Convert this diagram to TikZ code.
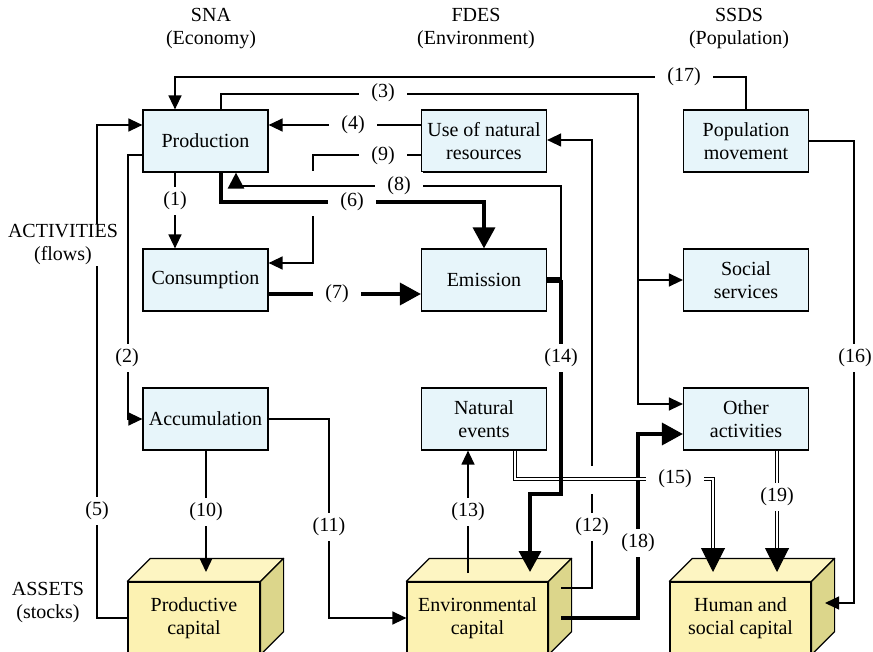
\documentclass[tikz,border=0pt]{standalone}
\usepackage{fontspec}
\setmainfont{Liberation Serif}
\usetikzlibrary{arrows.meta}
\definecolor{boxblue}{HTML}{E7F5FA}
\definecolor{cubefront}{HTML}{FCF2B2}
\definecolor{cubetop}{HTML}{FDF5C2}
\definecolor{cubeside}{HTML}{DCD68B}
\begin{document}
\begin{tikzpicture}[x=1pt,y=-1pt,
  every node/.style={font=\fontsize{20}{23}\selectfont},
  box/.style={draw, line width=1.2pt, fill=boxblue, minimum width=125pt,
    minimum height=62pt, inner sep=0pt, align=center},
  stock/.style={draw, line width=1.2pt, fill=cubefront, minimum height=72pt,
    inner sep=0pt, align=center},
  face/.style={draw, line width=1.2pt, line join=round},
  lab/.style={fill=white, inner xsep=12.5pt, inner ysep=4.5pt},
  side/.style={fill=white, inner sep=1pt, align=center},
  flow/.style={line width=1.3pt, -{Triangle[length=14pt,width=13pt]}},
  midflow/.style={line width=2.5pt, -{Triangle[length=16pt,width=16pt]}},
  bigflow/.style={line width=3.5pt, -{Triangle[length=21pt,width=22pt]}},
  dblline/.style={line width=1pt, double, double distance=2.5pt, shorten >=20pt},
  dbltip/.style={line width=1pt, -{Triangle[length=24pt,width=24pt]}},
  mask/.style={white, line width=4pt},
]
\useasboundingbox (0,0) rectangle (873,652);

% lanes used by the connectors
\foreach \v in {97,128,175,206,221,236,313,329,468,515,530,561,592,638,713,777,825,854}
  \coordinate (x\v) at (\v,0);
\foreach \v in {77,94,125,140,155,186,202,263,294,404,434,479,494,550,572,573,588,603,618}
  \coordinate (y\v) at (0,\v);

% column headings
\node[align=center] (sna)  at (211,28.5) {SNA\\(Economy)};
\node[align=center] (fdes) at (476,28.5) {FDES\\(Environment)};
\node[align=center] (ssds) at (739,28.5) {SSDS\\(Population)};

% activity boxes
\node[box] (pr) at (205.5,141) {Production};
\node[box] (co) at (205.5,280) {Consumption};
\node[box] (ac) at (205.5,419) {Accumulation};
\node[box] (un) at (484,141) {Use of natural\\resources};
\node[box] (em) at (484,280) {Emission};
\node[box] (ne) at (484,419) {Natural\\events};
\node[box] (pm) at (746,141) {Population\\movement};
\node[box] (ss) at (746,280) {Social\\services};
\node[box] (oa) at (746,419) {Other\\activities};

% asset blocks
\node[stock, minimum width=132pt] (pc) at (194,618) {Productive\\capital};
\node[stock, minimum width=141pt] (ec) at (477.5,618) {Environmental\\capital};
\node[stock, minimum width=141pt] (hc) at (740.5,618) {Human and\\social capital};
\foreach \c in {pc,ec,hc}{
  \draw[face, fill=cubetop] (\c.north west) -- ++(23,-23)
    -- ([shift={(23,-23)}]\c.north east) -- (\c.north east) -- cycle;
  \draw[face, fill=cubeside] (\c.north east) -- ++(23,-23)
    -- ([shift={(23,-23)}]\c.south east) -- (\c.south east) -- cycle;
}

% thin flows
\draw[flow] (pm.north) |- (x175 |- y77) -- (x175 |- pr.north);
\draw[flow] (x221 |- pr.north) |- (x638 |- y94) -- (x638 |- y404) -- (oa.west |- y404);
\draw[flow] (x638 |- ss.west) -- (ss.west);
\draw[flow] (un.west |- y125) -- (pr.east |- y125);
\draw[flow] (un.west |- y155) -| (x313 |- y263) -- (co.east |- y263);
\draw[mask] (313,171) -- (313,216);
\draw[flow] (x175 |- pr.south) -- (x175 |- co.north);
\draw[flow] (pr.west |- y155) -| (x128 |- ac.west) -- (ac.west);
\draw[flow] (pc.west |- y618) -| (x97 |- y125) -- (pr.west |- y125);
\draw[flow] (x206 |- ac.south) -- (x206 |- y572);
\draw[flow] (ac.east) -| (x329 |- y618) -- (ec.west |- y618);
\draw[flow] (x468 |- y573) -- (x468 |- ne.south);
\draw[flow] (x561 |- y588) -| (x592 |- y140) -- (un.east |- y140);
\draw[mask] (592,466) -- (592,494);
\draw[flow] (pm.east) -| (x854 |- y603) -- (x825 |- y603);

% heavy flows
\draw[bigflow] (x221 |- pr.south) |- (em.north |- y202) -- (em.north);
\draw[midflow] (x561 |- em.east) |- (x236 |- y186) -- (x236 |- pr.south);
\draw[bigflow] (co.east |- y294) -- (em.west |- y294);
\draw[bigflow] (x561 |- y618) -| (x638 |- y434) -- (oa.west |- y434);
\draw[dblline] (x515 |- ne.south) |- (x713 |- y479) -- (x713 |- y572);
\draw[dbltip] (x713 |- y550) -- (x713 |- y572);
\draw[dblline] (x777 |- oa.south) -- (x777 |- y572);
\draw[dbltip] (x777 |- y550) -- (x777 |- y572);
\draw[bigflow] (x561 |- em.east) |- (x530 |- y494) -- (x530 |- y572);
\draw[line width=6.5pt] (em.east) -- (x561 |- em.east);

% flow numbers
\node[lab] (l1)  at (175,201)   {(1)};
\node[lab] (l2)  at (127,358)   {(2)};
\node[lab] (l3)  at (383,93)    {(3)};
\node[lab] (l4)  at (353,125)   {(4)};
\node[lab] (l5)  at (97,511)    {(5)};
\node[lab] (l6)  at (352,202)   {(6)};
\node[lab] (l7)  at (337,294)   {(7)};
\node[lab] (l8)  at (399,186)   {(8)};
\node[lab] (l9)  at (383,156)   {(9)};
\node[lab] (l10) at (206,512)   {(10)};
\node[lab] (l11) at (329,527)   {(11)};
\node[lab] (l12) at (592,527)   {(12)};
\node[lab] (l13) at (468,512)   {(13)};
\node[lab] (l14) at (561,358)   {(14)};
\node[lab] (l15) at (675,479)   {(15)};
\node[lab] (l16) at (855,358)   {(16)};
\node[lab] (l17) at (684,77)    {(17)};
\node[lab] (l18) at (638,543)   {(18)};
\node[lab] (l19) at (777,497)   {(19)};

% row headings
\node[side] (act) at (63,245) {ACTIVITIES\\(flows)};
\node[side] (ast) at (48,603) {ASSETS\\(stocks)};
\end{tikzpicture}
\end{document}
